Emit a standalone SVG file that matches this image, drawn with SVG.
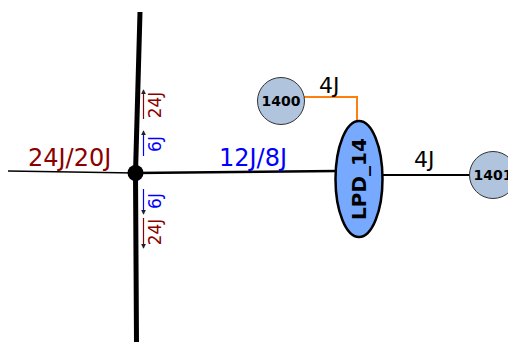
<svg xmlns="http://www.w3.org/2000/svg" width="508" height="342" viewBox="0 0 508 342">
<style>
text{font-family:"DejaVu Sans",sans-serif}
.lbl{font-size:22px;fill:#000}
.big{font-size:24px}
.red{fill:#8b0000}
.blue{fill:#0000ff}
.rot{font-size:17px;text-anchor:middle}
.node{fill:#b0c4de;stroke:#333;stroke-width:1}
.nt{font-size:14px;font-weight:bold;text-anchor:middle;fill:#000}
</style>
<defs>
<marker id="ar" viewBox="0 0 6 6" refX="5" refY="3" markerWidth="4" markerHeight="4" orient="auto"><path d="M0,0L6,3L0,6z" fill="#222"/></marker>
</defs>
<g id="connectors">
<line x1="8" y1="171" x2="135" y2="173" stroke="#000" stroke-width="1.5"/>
<line x1="135" y1="173" x2="337" y2="171" stroke="#000" stroke-width="2.5"/>
<polyline points="140,12 135.5,173 136.5,342" fill="none" stroke="#000" stroke-width="5"/>
<polyline points="304,97 357,97 357,122" fill="none" stroke="#ff7f0e" stroke-width="2"/>
<line x1="383" y1="175" x2="470" y2="175" stroke="#000" stroke-width="2"/>
<text class="lbl big red" x="28" y="166">24J/20J</text>
<text class="lbl big blue" x="219" y="166">12J/8J</text>
<text class="lbl" x="319" y="93" font-size="23">4J</text>
<text class="lbl" x="414" y="167" font-size="23">4J</text>
<line x1="143.5" y1="119" x2="143.5" y2="90" stroke="#8b0000" stroke-width="1.2" marker-end="url(#ar)"/>
<text class="rot red" transform="translate(160.5,105) rotate(-90)">24J</text>
<line x1="143.5" y1="156" x2="143.5" y2="131" stroke="#0000ff" stroke-width="1.2" marker-end="url(#ar)"/>
<text class="rot blue" transform="translate(160.5,144) rotate(-90)">6J</text>
<line x1="143.5" y1="189" x2="143.5" y2="214" stroke="#0000ff" stroke-width="1.2" marker-end="url(#ar)"/>
<text class="rot blue" transform="translate(160.5,201) rotate(-90)">6J</text>
<line x1="143.5" y1="218" x2="143.5" y2="248" stroke="#8b0000" stroke-width="1.2" marker-end="url(#ar)"/>
<text class="rot red" transform="translate(160.5,232) rotate(-90)">24J</text>
</g>
<g id="junction"><circle cx="135.5" cy="173" r="8" fill="#000"/></g>
<g id="n1400"><circle class="node" cx="281" cy="101" r="23.5"/><text class="nt" x="281" y="106">1400</text></g>
<g id="lpd14"><ellipse cx="359" cy="179" rx="23.5" ry="58" fill="#77aaff" stroke="#000" stroke-width="2.5"/><text transform="translate(366,179) rotate(-90)" font-size="20" font-weight="bold" text-anchor="middle">LPD_14</text></g>
<g id="n1401"><circle class="node" cx="493" cy="175" r="23.5"/><text class="nt" x="493" y="180">1401</text></g>
</svg>
